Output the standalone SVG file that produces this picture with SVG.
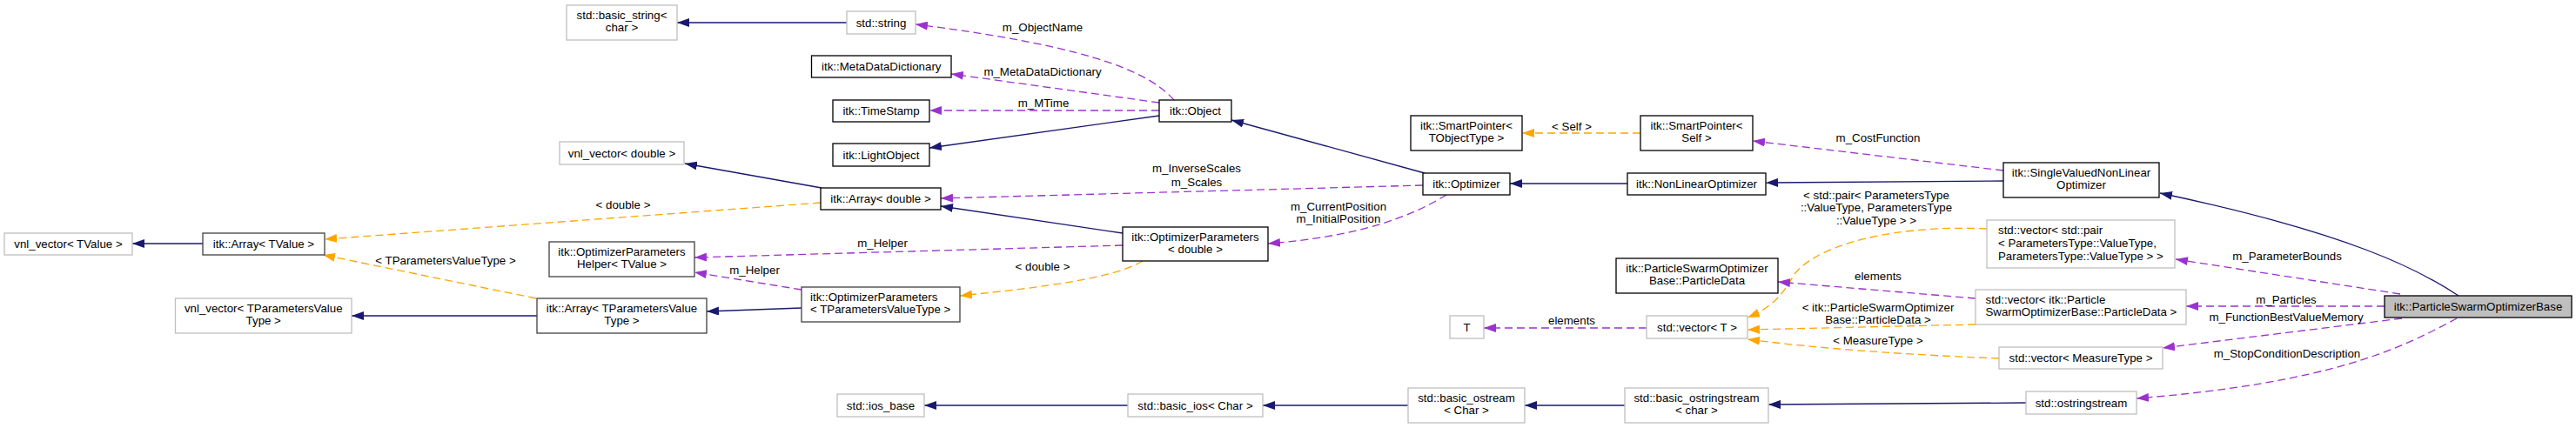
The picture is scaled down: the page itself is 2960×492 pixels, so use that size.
<svg xmlns="http://www.w3.org/2000/svg" width="2960" height="492" viewBox="0 0 2960 492">
<style>
text{font-family:"Liberation Sans",Arial,sans-serif;font-size:13.3px;fill:#000}
.c{text-anchor:middle}
.s{text-anchor:start}
rect{fill:#fff;stroke-width:1.3}
.b{stroke:#000}
.g{stroke:#bfbfbf}
.d{stroke:#404040}
.f{fill:#bfbfbf;stroke:#000}
.e path{fill:none;stroke-width:1.3}
.inh{stroke:#191970;marker-end:url(#ab)}
.use{stroke:#9a32cd;stroke-dasharray:9,5;marker-end:url(#ap)}
.tpl{stroke:#ffa500;stroke-dasharray:9,5;marker-end:url(#ao)}
</style>
<defs>
<marker id="ab" viewBox="0 0 14 10" refX="14" refY="5" markerWidth="14" markerHeight="10" markerUnits="userSpaceOnUse" orient="auto"><path d="M0,0 L14,5 L0,10 z" fill="#191970"/></marker>
<marker id="ap" viewBox="0 0 14 10" refX="14" refY="5" markerWidth="14" markerHeight="10" markerUnits="userSpaceOnUse" orient="auto"><path d="M0,0 L14,5 L0,10 z" fill="#9a32cd"/></marker>
<marker id="ao" viewBox="0 0 14 10" refX="14" refY="5" markerWidth="14" markerHeight="10" markerUnits="userSpaceOnUse" orient="auto"><path d="M0,0 L14,5 L0,10 z" fill="#ffa500"/></marker>
</defs>
<rect x="0" y="0" width="2960" height="492" style="fill:#fff;stroke:none"/>
<g id="edges" class="e">
<path class="inh" d="M973,26 L778,26"/>
<path class="use" d="M1349,115 C1325,88 1270,55 1052,28"/>
<path class="use" d="M1332,118 L1093,85"/>
<path class="use" d="M1332,127 L1068,127"/>
<path class="inh" d="M1332,133 L1068,170"/>
<path class="inh" d="M1637,199 L1415,138"/>
<path class="use" d="M1635,213 L1081,228"/>
<path class="use" d="M1662,224 C1620,250 1560,272 1457,280"/>
<path class="inh" d="M1290,268 L1081,237"/>
<path class="inh" d="M944,216 L787,188"/>
<path class="tpl" d="M943,233 L373,275"/>
<path class="tpl" d="M616,343 L371,293"/>
<path class="inh" d="M233,280 L152,280"/>
<path class="use" d="M1290,282 L798,296"/>
<path class="use" d="M921,333 L798,313"/>
<path class="tpl" d="M1313,300 C1280,320 1200,330 1103,340"/>
<path class="inh" d="M921,354 L812,358"/>
<path class="inh" d="M617,363 L404,363"/>
<path class="tpl" d="M1885,153 L1749,153"/>
<path class="use" d="M2302,196 L2014,162"/>
<path class="inh" d="M1870,211 L1735,211"/>
<path class="inh" d="M2302,208 L2029,210"/>
<path class="inh" d="M2825,340 C2780,310 2700,268 2482,222"/>
<path class="use" d="M2758,338 L2500,298"/>
<path class="use" d="M2740,352 L2512,352"/>
<path class="use" d="M2760,366 L2485,400"/>
<path class="use" d="M2823,366 C2760,400 2680,440 2455,458"/>
<path class="tpl" d="M2283,263 C2180,258 2090,280 2062,315 C2050,335 2040,352 2008,365"/>
<path class="use" d="M2270,343 L2043,324"/>
<path class="tpl" d="M2270,373 L2008,379"/>
<path class="tpl" d="M2297,412 C2200,408 2100,402 2008,390"/>
<path class="use" d="M1892,377 L1705,377"/>
<path class="inh" d="M1296,466 L1062,466"/>
<path class="inh" d="M1618,466 L1451,466"/>
<path class="inh" d="M1867,466 L1752,466"/>
<path class="inh" d="M2328,463 L2032,465"/>
</g>
<g id="edge-labels">
<text class="c" x="1198" y="35.5">m_ObjectName</text>
<text class="c" x="1198" y="86.5">m_MetaDataDictionary</text>
<text class="c" x="1199" y="122.5">m_MTime</text>
<text class="c" x="1375" y="197.5">m_InverseScales</text>
<text class="c" x="1375" y="213.5">m_Scales</text>
<text class="c" x="716" y="239.5">&lt; double &gt;</text>
<text class="c" x="512" y="303.5">&lt; TParametersValueType &gt;</text>
<text class="c" x="1014" y="283.5">m_Helper</text>
<text class="c" x="867" y="314.5">m_Helper</text>
<text class="c" x="1198" y="310.5">&lt; double &gt;</text>
<text class="c" x="1538" y="241.5">m_CurrentPosition</text>
<text class="c" x="1538" y="255.5">m_InitialPosition</text>
<text class="c" x="1806" y="149.5">&lt; Self &gt;</text>
<text class="c" x="2158" y="162.5">m_CostFunction</text>
<text class="c" x="2156" y="228.5">&lt; std::pair&lt; ParametersType</text>
<text class="c" x="2156" y="243">::ValueType, ParametersType</text>
<text class="c" x="2156" y="257.5">::ValueType &gt; &gt;</text>
<text class="c" x="2158" y="321.5">elements</text>
<text class="c" x="2158" y="357.5">&lt; itk::ParticleSwarmOptimizer</text>
<text class="c" x="2158" y="371.5">Base::ParticleData &gt;</text>
<text class="c" x="2158" y="395.5">&lt; MeasureType &gt;</text>
<text class="c" x="1806" y="372.5">elements</text>
<text class="c" x="2628" y="298.5">m_ParameterBounds</text>
<text class="c" x="2627" y="348.5">m_Particles</text>
<text class="c" x="2627" y="368.5">m_FunctionBestValueMemory</text>
<text class="c" x="2628" y="410.5">m_StopConditionDescription</text>
</g>
<g id="n_basic_string"><rect class="g" x="651" y="6" width="127" height="40"/><text class="c" x="714.5" y="21.5">std::basic_string&lt;</text><text class="c" x="714.5" y="36">char &gt;</text></g>
<g id="n_string"><rect class="g" x="973" y="13" width="79" height="26"/><text class="c" x="1012.5" y="30.5">std::string</text></g>
<g id="n_mdd"><rect class="b" x="932.5" y="64" width="160.5" height="25"/><text class="c" x="1012.75" y="81">itk::MetaDataDictionary</text></g>
<g id="n_timestamp"><rect class="b" x="957" y="115" width="111" height="25"/><text class="c" x="1012.5" y="132">itk::TimeStamp</text></g>
<g id="n_lightobject"><rect class="b" x="957" y="165" width="111" height="26"/><text class="c" x="1012.5" y="182.5">itk::LightObject</text></g>
<g id="n_object"><rect class="b" x="1332" y="115" width="83" height="25"/><text class="c" x="1373.5" y="132">itk::Object</text></g>
<g id="n_vnl_double"><rect class="g" x="643" y="163" width="143" height="26"/><text class="c" x="714.5" y="180.5">vnl_vector&lt; double &gt;</text></g>
<g id="n_array_double"><rect class="b" x="943" y="216" width="138" height="25"/><text class="c" x="1012" y="233">itk::Array&lt; double &gt;</text></g>
<g id="n_vnl_tvalue"><rect class="g" x="5" y="268" width="147" height="25"/><text class="c" x="78.5" y="285">vnl_vector&lt; TValue &gt;</text></g>
<g id="n_array_tvalue"><rect class="d" x="233" y="268" width="140" height="25"/><text class="c" x="303" y="285">itk::Array&lt; TValue &gt;</text></g>
<g id="n_helper"><rect class="d" x="631" y="278" width="167" height="40"/><text class="c" x="714.5" y="293.5">itk::OptimizerParameters</text><text class="c" x="714.5" y="308">Helper&lt; TValue &gt;</text></g>
<g id="n_vnl_tpvt"><rect class="g" x="201.5" y="343" width="202.5" height="40"/><text class="c" x="302.75" y="358.5">vnl_vector&lt; TParametersValue</text><text class="c" x="302.75" y="373">Type &gt;</text></g>
<g id="n_array_tpvt"><rect class="d" x="617" y="343" width="195" height="40"/><text class="c" x="714.5" y="358.5">itk::Array&lt; TParametersValue</text><text class="c" x="714.5" y="373">Type &gt;</text></g>
<g id="n_optparams_tpvt"><rect class="d" x="921" y="330" width="182" height="40"/><text class="s" x="931" y="345.5">itk::OptimizerParameters</text><text class="s" x="931" y="360">&lt; TParametersValueType &gt;</text></g>
<g id="n_optparams_double"><rect class="b" x="1290" y="261" width="167" height="39"/><text class="c" x="1373.5" y="276.5">itk::OptimizerParameters</text><text class="c" x="1373.5" y="291">&lt; double &gt;</text></g>
<g id="n_sp_tobj"><rect class="b" x="1621" y="133" width="128" height="40"/><text class="c" x="1685" y="148.5">itk::SmartPointer&lt;</text><text class="c" x="1685" y="163">TObjectType &gt;</text></g>
<g id="n_sp_self"><rect class="b" x="1885" y="133" width="129" height="40"/><text class="c" x="1949.5" y="148.5">itk::SmartPointer&lt;</text><text class="c" x="1949.5" y="163">Self &gt;</text></g>
<g id="n_optimizer"><rect class="b" x="1635" y="199" width="100" height="25"/><text class="c" x="1685" y="216">itk::Optimizer</text></g>
<g id="n_nlopt"><rect class="b" x="1870" y="199" width="159" height="25"/><text class="c" x="1949.5" y="216">itk::NonLinearOptimizer</text></g>
<g id="n_svnlo"><rect class="b" x="2302" y="187" width="179" height="40"/><text class="c" x="2391.5" y="202.5">itk::SingleValuedNonLinear</text><text class="c" x="2391.5" y="217">Optimizer</text></g>
<g id="n_particledata"><rect class="b" x="1857" y="297" width="186" height="40"/><text class="c" x="1950" y="312.5">itk::ParticleSwarmOptimizer</text><text class="c" x="1950" y="327">Base::ParticleData</text></g>
<g id="n_T"><rect class="g" x="1666" y="363" width="39" height="26"/><text class="c" x="1685.5" y="380.5">T</text></g>
<g id="n_vecT"><rect class="g" x="1892" y="363" width="116" height="26"/><text class="c" x="1950" y="380.5">std::vector&lt; T &gt;</text></g>
<g id="n_vecpair"><rect class="g" x="2283" y="253" width="216" height="55"/><text class="s" x="2296" y="269">std::vector&lt; std::pair</text><text class="s" x="2296" y="284">&lt; ParametersType::ValueType,</text><text class="s" x="2296" y="299"> ParametersType::ValueType &gt; &gt;</text></g>
<g id="n_vecparticle"><rect class="g" x="2270" y="333" width="242" height="40"/><text class="s" x="2281.5" y="348.5">std::vector&lt; itk::Particle</text><text class="s" x="2281.5" y="363">SwarmOptimizerBase::ParticleData &gt;</text></g>
<g id="n_vecmeasure"><rect class="g" x="2297" y="399" width="188" height="25"/><text class="c" x="2391" y="416">std::vector&lt; MeasureType &gt;</text></g>
<g id="n_ostringstream"><rect class="g" x="2328" y="450" width="127" height="26"/><text class="c" x="2391.5" y="467.5">std::ostringstream</text></g>
<g id="n_pso"><rect class="f" x="2740" y="340" width="215" height="25"/><text class="c" x="2847.5" y="357">itk::ParticleSwarmOptimizerBase</text></g>
<g id="n_ios_base"><rect class="g" x="962" y="453" width="100" height="26"/><text class="c" x="1012" y="470.5">std::ios_base</text></g>
<g id="n_basic_ios"><rect class="g" x="1296" y="453" width="155" height="26"/><text class="c" x="1373.5" y="470.5">std::basic_ios&lt; Char &gt;</text></g>
<g id="n_basic_ostream"><rect class="g" x="1618" y="446" width="134" height="40"/><text class="c" x="1685" y="461.5">std::basic_ostream</text><text class="c" x="1685" y="476">&lt; Char &gt;</text></g>
<g id="n_basic_ostringstream"><rect class="g" x="1867" y="446" width="165" height="40"/><text class="c" x="1949.5" y="461.5">std::basic_ostringstream</text><text class="c" x="1949.5" y="476">&lt; char &gt;</text></g>
</svg>
